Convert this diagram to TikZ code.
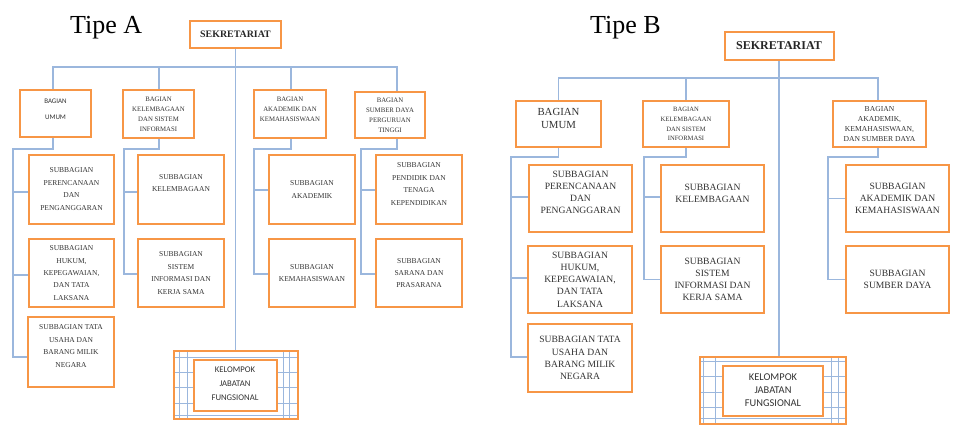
\documentclass[tikz,border=0pt]{standalone}
\usepackage{fontspec}
\setmainfont{Liberation Serif}
\newfontfamily\carl{Carlito}
\usetikzlibrary{backgrounds}
\definecolor{orgline}{HTML}{F79646}
\definecolor{conline}{HTML}{9BB7DD}
\definecolor{txtcol}{HTML}{333333}
\tikzset{
  obox/.style={draw=orgline, line width=2pt, fill=white, inner sep=0pt},
  kbox/.style={draw=orgline, line width=2pt, inner sep=0pt},
  conn/.style={draw=conline, line width=1.1pt},
  gline/.style={draw=conline, line width=0.9pt},
  base/.style={text=txtcol, align=center, inner sep=0pt},
  sekAt/.style={base, text=black!85, font=\bfseries\fontsize{9.9}{12}\selectfont},
  sekBt/.style={base, text=black!85, font=\bfseries\fontsize{12}{14}\selectfont},
  bagAs/.style={base, font=\carl\fontsize{7}{16}\selectfont},
  bagA/.style={base, font=\fontsize{6.8}{10}\selectfont},
  subA/.style={base, font=\fontsize{7.5}{12.4}\selectfont},
  subB/.style={base, font=\fontsize{9.6}{12.2}\selectfont},
  bagBu/.style={base, font=\fontsize{10.8}{13}\selectfont},
  bagBk/.style={base, font=\fontsize{6.6}{9.7}\selectfont},
  bagBa/.style={base, font=\fontsize{7.6}{9.7}\selectfont},
  kelAt/.style={base, font=\carl\fontsize{8.7}{14}\selectfont},
  kelBt/.style={base, font=\carl\fontsize{10.4}{13}\selectfont},
  tipe/.style={inner sep=0pt, text=black, font=\fontsize{26}{30}\selectfont}
}
% name, center, width, height, text style, text shift, text
\newcommand{\obx}[7]{%
  \node[obox, minimum width=#3, minimum height=#4] (#1) at (#2) {};
  \node[#5] (#1-t) at ([yshift=#6]#1.center) {#7};}
\begin{document}
\begin{tikzpicture}[x=1pt,y=-1pt]
\useasboundingbox (0,0) rectangle (955,429);

% ---------------- Tipe A ----------------
\node[tipe, anchor=base west] (tA) at (70,33) {Tipe A};
\obx{sekA}{235.5,34.5}{91}{27}{sekAt}{0}{SEKRETARIAT}
\obx{aU}{55.5,113.5}{71}{47}{bagAs}{4.5}{BAGIAN\\UMUM}
\obx{aK}{158.5,114}{71}{48}{bagA}{0}{BAGIAN\\KELEMBAGAAN\\DAN SISTEM\\INFORMASI}
\obx{aA}{290,114}{72}{48}{bagA}{5}{BAGIAN\\AKADEMIK DAN\\KEMAHASISWAAN}
\obx{aS}{390,115}{70}{46}{bagA}{0}{BAGIAN\\SUMBER DAYA\\PERGURUAN\\TINGGI}
\obx{aP}{71.5,189.5}{85}{69}{subA}{0.5}{SUBBAGIAN\\PERENCANAAN\\DAN\\PENGANGGARAN}
\obx{aH}{71.5,273}{85}{68}{subA}{0}{SUBBAGIAN\\HUKUM,\\KEPEGAWAIAN,\\DAN TATA\\LAKSANA}
\obx{aT}{71,352}{86}{70}{subA}{6}{SUBBAGIAN TATA\\USAHA DAN\\BARANG MILIK\\NEGARA}
\obx{aKl}{181,189.5}{86}{69}{subA}{6.5}{SUBBAGIAN\\KELEMBAGAAN}
\obx{aSi}{181,273}{86}{68}{subA}{0}{SUBBAGIAN\\SISTEM\\INFORMASI DAN\\KERJA SAMA}
\obx{aAk}{312,189.5}{86}{69}{subA}{0}{SUBBAGIAN\\AKADEMIK}
\obx{aKm}{312,273}{86}{68}{subA}{0}{SUBBAGIAN\\KEMAHASISWAAN}
\obx{aPd}{419,189.5}{86}{69}{subA}{5.5}{SUBBAGIAN\\PENDIDIK DAN\\TENAGA\\KEPENDIDIKAN}
\obx{aSr}{419,273}{86}{68}{subA}{0}{SUBBAGIAN\\SARANA DAN\\PRASARANA}
\node[kbox, minimum width=124, minimum height=68] (kelA) at (235.5,385) {};
\obx{kelAi}{235,385.5}{83}{51}{kelAt}{1.5}{KELOMPOK\\JABATAN\\FUNGSIONAL}

% ---------------- Tipe B ----------------
\node[tipe, anchor=base west] (tB) at (590,33) {Tipe B};
\obx{sekB}{779,46}{109}{28}{sekBt}{0}{SEKRETARIAT}
\obx{bU}{558.5,124}{85}{46}{bagBu}{5.5}{BAGIAN\\UMUM}
\obx{bK}{686,124}{86}{46}{bagBk}{0}{BAGIAN\\KELEMBAGAAN\\DAN SISTEM\\INFORMASI}
\obx{bA}{879.5,124}{93}{46}{bagBa}{0}{BAGIAN\\AKADEMIK,\\KEMAHASISWAAN,\\DAN SUMBER DAYA}
\obx{bP}{580.5,198.5}{103}{67}{subB}{6}{SUBBAGIAN\\PERENCANAAN\\DAN\\PENGANGGARAN}
\obx{bH}{580,279.5}{104}{67}{subB}{0}{SUBBAGIAN\\HUKUM,\\KEPEGAWAIAN,\\DAN TATA\\LAKSANA}
\obx{bT}{580,358}{104}{68}{subB}{0}{SUBBAGIAN TATA\\USAHA DAN\\BARANG MILIK\\NEGARA}
\obx{bKl}{712.5,198.5}{103}{67}{subB}{5.5}{SUBBAGIAN\\KELEMBAGAAN}
\obx{bSi}{712.5,279.5}{103}{67}{subB}{0}{SUBBAGIAN\\SISTEM\\INFORMASI DAN\\KERJA SAMA}
\obx{bAk}{897.5,198.5}{103}{67}{subB}{0}{SUBBAGIAN\\AKADEMIK DAN\\KEMAHASISWAAN}
\obx{bSd}{897.5,279.5}{103}{67}{subB}{0}{SUBBAGIAN\\SUMBER DAYA}
\node[kbox, minimum width=146, minimum height=67] (kelB) at (773,390.5) {};
\obx{kelBi}{773,391}{100}{50}{kelBt}{1}{KELOMPOK\\JABATAN\\FUNGSIONAL}

\begin{pgfonlayer}{background}
  % grid pattern of the Kelompok boxes
  \foreach \yy in {357,372,387,403,415}
    \draw[gline] (kelA.west |- 0,\yy) -- (kelA.east |- 0,\yy);
  \foreach \xx in {179,187,283,289}
    \draw[gline] (\xx,0 |- kelA.north) -- (\xx,0 |- kelA.south);
  \foreach \yy in {361,376,392,407,418}
    \draw[gline] (kelB.west |- 0,\yy) -- (kelB.east |- 0,\yy);
  \foreach \xx in {703,715,831,838}
    \draw[gline] (\xx,0 |- kelB.north) -- (\xx,0 |- kelB.south);

  % connectors, Tipe A
  \coordinate (barA) at (235.5,67);
  \draw[conn] (sekA) -- (kelA);
  \draw[conn] ([xshift=-2.5]aU.north) |- (barA) -| ([xshift=7]aS.north);
  \draw[conn] ([xshift=0.5]aK.north) -- ([xshift=0.5]aK.north |- barA);
  \draw[conn] ([xshift=1]aA.north) -- ([xshift=1]aA.north |- barA);
  \coordinate (aUc) at (13,149);
  \draw[conn] ([xshift=-2.5]aU.south) |- (aUc) |- ([yshift=-5]aT.west);
  \draw[conn] (aUc) |- ([yshift=-2.5]aP.west);
  \draw[conn] (aUc) |- ([yshift=-2]aH.west);
  \coordinate (aKc) at (124,149);
  \draw[conn] ([xshift=0.5]aK.south) |- (aKc) |- ([yshift=-1]aSi.west);
  \draw[conn] (aKc) |- ([yshift=-2.5]aKl.west);
  \coordinate (aAc) at (254,149);
  \draw[conn] ([xshift=1]aA.south) |- (aAc) |- ([yshift=-1]aKm.west);
  \draw[conn] (aAc) |- ([yshift=-0.5]aAk.west);
  \coordinate (aSc) at (361,149);
  \draw[conn] ([xshift=7]aS.south) |- (aSc) |- ([yshift=-1]aSr.west);
  \draw[conn] (aSc) |- ([yshift=-0.5]aPd.west);

  % connectors, Tipe B
  \coordinate (barB) at (779,78);
  \draw[conn] (sekB) -- (sekB |- kelB.north);
  \draw[conn] (bU.north) |- (barB) -| ([xshift=-1.5]bA.north);
  \draw[conn] (bK.north) -- (bK.north |- barB);
  \coordinate (bUc) at (511,157);
  \draw[conn] (bU.south) |- (bUc) |- ([yshift=1]bT.west);
  \draw[conn] (bUc) |- ([yshift=1.5]bP.west);
  \draw[conn] (bUc) |- ([yshift=1.5]bH.west);
  \coordinate (bKc) at (644,157);
  \draw[conn] (bK.south) |- (bKc) |- (bSi.west);
  \draw[conn] (bKc) |- ([yshift=1.5]bKl.west);
  \coordinate (bAc) at (828,157);
  \draw[conn] ([xshift=-1.5]bA.south) |- (bAc) |- (bSd.west);
  \draw[conn] (bAc) |- (bAk.west);
\end{pgfonlayer}
\end{tikzpicture}
\end{document}
